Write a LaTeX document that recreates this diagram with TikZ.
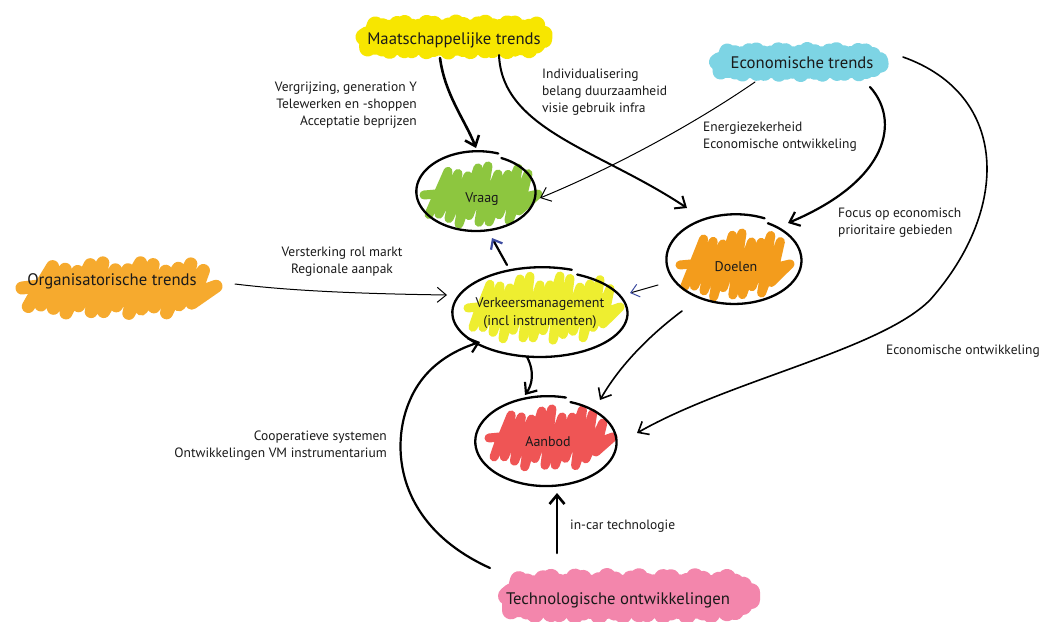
\documentclass[tikz,border=0pt]{standalone}
\usepackage{fontspec}
\setmainfont{PT Sans}
\usetikzlibrary{arrows.meta,shapes.geometric}
\definecolor{tyellow}{HTML}{F7E600}
\definecolor{tblue}{HTML}{7DD4E4}
\definecolor{torange}{HTML}{F6AA2E}
\definecolor{tpink}{HTML}{F386AC}
\definecolor{vgreen}{HTML}{8DC63F}
\definecolor{dorange}{HTML}{F39C1C}
\definecolor{vmyellow}{HTML}{EEEE30}
\definecolor{ared}{HTML}{EF5555}
\definecolor{tipblue}{HTML}{3C4BA0}
\definecolor{ink}{HTML}{1A1A1A}
% #1 colour, #2 cx, #3 cy (pixel, down), #4 rx, #5 ry, #6 strokes, #7 slant, #8 line width, #9 exponent
\newcommand\scribfill[9]{%
  \draw[#1, line width=#8pt, line cap=round, line join=round]
    ({#2-#4},{-#3})
    foreach \k in {0,...,#6} {
      -- ({#2-#4+2*#4*\k/#6+#7}, {-#3 + #5*pow(max(0.0001,1-pow(abs(2*\k/#6-1)+0.00001,#9)),1/#9)*(0.82+0.18*sin(\k*97))})
      -- ({#2-#4+2*#4*(\k+0.5)/#6}, {-#3 - #5*pow(max(0.0001,1-pow(abs(2*(\k+0.5)/#6-1)+0.00001,#9)),1/#9)*(0.84+0.16*cos(\k*131))})
    };
}
% #1 node, #2 rx, #3 ry, #4 start angle, #5 end angle
\newcommand\handoval[5]{%
  \draw[outline, shift={(#1.center)}] plot[smooth, domain=#4:#5, samples=80, variable=\t]
    ({(#2-0.012*(\t-#4))*cos(\t)}, {(#3-0.010*(\t-#4))*sin(\t)});
}
\begin{document}
\begin{tikzpicture}[x=1pt,y=1pt,
  trend/.style={font=\fontsize{16.7}{20}\selectfont, text=ink, inner sep=0pt},
  lbl/.style={font=\fontsize{13.5}{17}\selectfont, text=ink, inner sep=0pt},
  ntext/.style={font=\fontsize{14}{18}\selectfont, text=ink, inner sep=0pt, align=center},
  oval/.style={ellipse, draw=none, inner sep=0pt},
  outline/.style={line width=2.3pt, line cap=round, line join=round, black},
  conn/.style={black, line cap=round, -{Straight Barb[length=9pt,width=15pt]}},
  bconn/.style={black, line cap=round, -{Straight Barb[length=8pt,width=13pt,color=tipblue]}}]
\useasboundingbox (0,0) rectangle (1043,-621);
\fill[white] (0,0) rectangle (1043,-621);

% ---- coloured blobs behind trend titles
\scribfill{tyellow}{452}{37}{88}{14}{24}{4}{17}{6}
\scribfill{tblue}{797}{62}{80}{12}{22}{3}{16}{6}
\scribfill{torange}{110}{288}{88}{26}{14}{18}{13}{4}
\scribfill{tpink}{627}{596}{120}{19}{30}{4}{18}{6}

% ---- scribble fills inside the ovals
\scribfill{vgreen}{474}{195}{50}{30}{10}{14}{9}{3}
\scribfill{dorange}{728}{265}{48}{33}{10}{14}{9}{3}
\scribfill{vmyellow}{538}{308}{70}{33}{14}{12}{9}{3}
\scribfill{ared}{545}{438}{56}{30}{11}{12}{9}{3}

% ---- trend nodes
\node[trend] (mt) at (454,-40) {Maatschappelijke trends};
\node[trend] (et) at (802,-63) {Economische trends};
\node[trend] (ot) at (112,-281) {Organisatorische trends};
\node[trend] (to) at (618,-600) {Technologische ontwikkelingen};

% ---- oval nodes
\node[oval, minimum width=120pt, minimum height=80pt] (vraag) at (477,-192) {};
\node[oval, minimum width=136pt, minimum height=90pt] (doelen) at (735,-260) {};
\node[oval, minimum width=176pt, minimum height=90pt] (vm) at (541,-313) {};
\node[oval, minimum width=144pt, minimum height=90pt] (aanbod) at (547,-442) {};

\node[ntext] (vraagtxt) at (482,-199) {Vraag};
\node[ntext] (doelentxt) at (736,-267) {Doelen};
\node[ntext] (vmtxt) at (540,-313) {Verkeersmanagement\\(incl instrumenten)};
\node[ntext] (aanbodtxt) at (548,-442) {Aanbod};

% ---- hand drawn oval outlines
\handoval{vraag}{62}{41}{70}{425}
\handoval{doelen}{70}{46}{65}{420}
\handoval{vm}{90}{46}{70}{425}
\handoval{aanbod}{73}{46}{75}{430}

% ---- labels
\node[lbl, align=right, anchor=east] (l1) at (417,-105) {Vergrijzing, generation Y\\Telewerken en -shoppen\\Acceptatie beprijzen};
\node[lbl, align=left, anchor=west] (l2) at (542,-92) {Individualisering\\belang duurzaamheid\\visie gebruik infra};
\node[lbl, align=left, anchor=west] (l3) at (703,-137) {Energiezekerheid\\Economische ontwikkeling};
\node[lbl, align=left, anchor=west] (l4) at (838,-223) {Focus op economisch\\prioritaire gebieden};
\node[lbl, anchor=west] (l5) at (886,-351) {Economische ontwikkeling};
\node[lbl, align=center] (l6) at (342,-261.5) {Versterking rol markt\\Regionale aanpak};
\node[lbl, align=right, anchor=east] (l7) at (387,-445.5) {Cooperatieve systemen\\Ontwikkelingen VM instrumentarium};
\node[lbl, anchor=west] (l8) at (570,-526) {in-car technologie};

% ---- connectors
\draw[conn, line width=2.6pt] ([shift={(-14,-18)}]mt.center) .. controls (445,-95) and (465,-120) .. ([shift={(-1,44)}]vraag.center);
\draw[conn, line width=2pt] ([shift={(45,-15)}]mt.center) .. controls (502,-130) and (600,-150) .. ([shift={(-48,52)}]doelen.center);
\draw[conn, line width=1pt] ([shift={(-47,-19)}]et.center) .. controls (700,-120) and (620,-165) .. ([shift={(63,-6)}]vraag.center);
\draw[conn, line width=2.2pt] ([shift={(68,-24)}]et.center) .. controls (900,-120) and (890,-180) .. ([shift={(53,37)}]doelen.center);
\draw[conn, line width=1.6pt] ([shift={(101,6)}]et.center) .. controls (1010,-95) and (1010,-210) .. (930,-300)
   .. controls (880,-350) and (730,-380) .. ([shift={(90,9)}]aanbod.center);
\draw[conn, line width=1pt] ([shift={(123,-3)}]ot.center) .. controls (300,-292) and (380,-294) .. ([shift={(-94,18)}]vm.center);
\draw[bconn, line width=2.2pt] ([shift={(-34,48)}]vm.center) -- ([shift={(15,-46)}]vraag.center);
\draw[bconn, line width=1pt] ([shift={(-77,-25)}]doelen.center) -- ([shift={(89,20)}]vm.center);
\draw[conn, line width=2.2pt] ([shift={(-14,-44)}]vm.center) .. controls (535,-372) and (532,-385) .. ([shift={(-22,47)}]aanbod.center);
\draw[conn, line width=1.6pt] ([shift={(-53,-51)}]doelen.center) .. controls (650,-335) and (620,-365) .. ([shift={(53,42)}]aanbod.center);
\draw[conn, line width=2.6pt] ([shift={(-61,47)}]to.center) -- ([shift={(10,-51)}]aanbod.center);
\draw[conn, line width=2.2pt] ([shift={(-128,32)}]to.center) .. controls (395,-525) and (390,-445) .. (410,-400)
   .. controls (425,-365) and (455,-350) .. ([shift={(-61,-29)}]vm.center);
\end{tikzpicture}
\end{document}
